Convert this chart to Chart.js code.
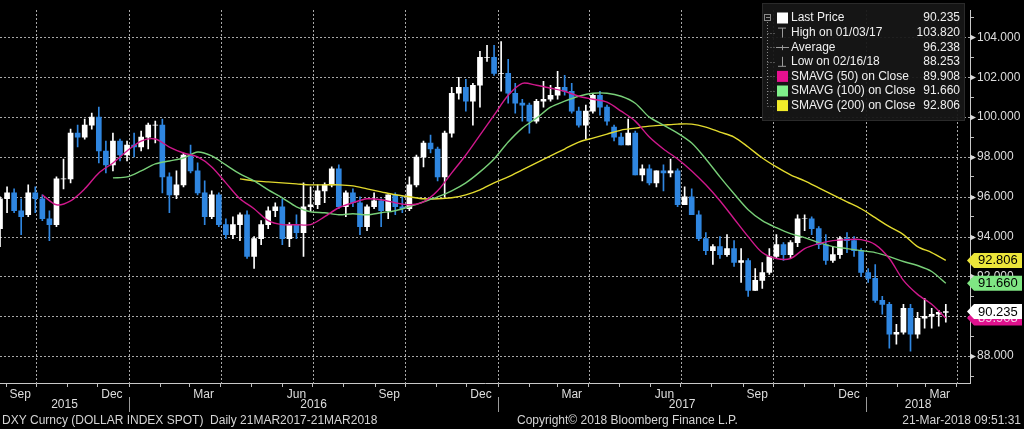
<!DOCTYPE html>
<html>
<head>
<meta charset="utf-8">
<script src="https://cdn.jsdelivr.net/npm/chart.js@4.4.0/dist/chart.umd.min.js"></script>
<style>
html, body { margin: 0; padding: 0; background: #000; }
#wrap { width: 1024px; height: 429px; }
</style>
</head>
<body>
<div id="wrap"><canvas id="myChart" width="1024" height="429"></canvas></div>
<script>
// DXY weekly candles, first week = Mon 24 Aug 2015, last = week of 19 Mar 2018
var opens = [94.4, 95.9, 96.2, 95.3, 95.1, 96.2, 95.9, 94.9, 94.6, 96.9,
    96.9, 99.2, 99.0, 99.6, 100.0, 98.3, 97.6, 98.8, 98.1, 98.6,
    98.5, 99.0, 99.6, 99.6, 97.0, 96.1, 96.6, 98.1, 97.3, 96.2,
    95.0, 96.1, 94.6, 94.1, 94.6, 95.1, 93.0, 93.9, 94.6, 95.3,
    95.5, 93.9, 94.6, 94.2, 95.5, 95.6, 96.3, 96.6, 97.4, 95.5,
    96.2, 95.7, 94.5, 95.5, 95.8, 95.3, 96.1, 95.5, 95.4, 96.6,
    98.0, 98.7, 98.4, 97.0, 99.2, 101.2, 101.5, 100.8, 101.6, 103.0,
    103.0, 102.2, 102.2, 101.2, 100.7, 100.6, 99.8, 100.8, 100.9, 101.1,
    101.5, 101.3, 100.3, 99.6, 100.3, 101.1, 100.5, 99.5, 99.0, 98.6,
    99.2, 97.1, 97.4, 96.7, 97.3, 97.2, 97.3, 95.6, 96.0, 95.1,
    93.9, 93.3, 93.5, 93.1, 93.4, 92.7, 92.8, 91.3, 91.8, 92.2,
    93.0, 93.6, 93.1, 93.7, 94.9, 94.9, 94.4, 93.6, 92.8, 93.1,
    93.9, 93.8, 93.3, 92.2, 91.9, 90.8, 90.6, 89.1, 89.2, 90.4,
    89.1, 89.9, 90.0, 90.1, 90.2]
var highs = [96.0, 96.5, 96.4, 95.9, 96.6, 96.5, 96.1, 95.3, 97.0, 97.9,
    99.4, 99.6, 99.9, 100.2, 100.5, 98.8, 99.2, 98.9, 98.8, 99.2,
    99.3, 99.7, 99.8, 99.9, 97.2, 97.3, 98.2, 98.6, 97.7, 96.8,
    96.3, 96.2, 94.9, 95.0, 95.2, 95.3, 94.0, 94.8, 95.5, 95.7,
    95.9, 94.7, 95.1, 96.7, 96.5, 96.6, 96.7, 97.5, 97.6, 96.3,
    96.4, 96.0, 95.6, 96.2, 95.9, 96.1, 96.2, 96.0, 97.0, 98.1,
    98.8, 99.1, 98.5, 99.3, 101.5, 102.0, 101.9, 101.7, 103.3, 103.6,
    103.6, 103.8, 102.9, 101.7, 100.9, 100.7, 100.9, 101.8, 101.6, 102.3,
    102.1, 101.7, 100.5, 100.6, 101.2, 101.3, 100.6, 99.6, 99.2, 99.9,
    99.3, 97.6, 97.6, 97.3, 97.6, 97.9, 97.4, 96.5, 96.4, 95.3,
    94.2, 93.6, 94.0, 94.1, 93.8, 93.4, 92.9, 92.4, 92.7, 93.4,
    94.1, 93.7, 93.8, 95.1, 95.1, 95.0, 94.5, 94.1, 93.5, 94.0,
    94.2, 94.0, 93.4, 92.4, 92.6, 91.0, 90.7, 89.6, 90.6, 90.6,
    90.2, 90.9, 90.4, 90.3, 90.6]
var lows = [93.5, 95.2, 95.2, 94.1, 95.0, 95.2, 94.8, 93.8, 94.5, 96.4,
    96.7, 98.5, 98.9, 99.4, 97.7, 97.2, 97.3, 97.8, 97.8, 98.0,
    98.3, 98.4, 98.7, 96.2, 95.2, 95.9, 96.5, 97.2, 96.1, 94.6,
    94.9, 94.5, 93.9, 93.9, 93.8, 92.9, 92.4, 93.6, 94.4, 95.0,
    93.6, 93.5, 93.9, 93.0, 95.3, 95.4, 95.7, 96.5, 95.4, 95.0,
    95.5, 94.1, 94.3, 95.4, 94.5, 94.9, 95.1, 95.2, 95.3, 96.5,
    97.5, 98.2, 96.8, 96.0, 99.0, 100.9, 100.3, 99.6, 100.5, 102.8,
    102.1, 101.3, 100.7, 100.2, 99.8, 99.2, 99.7, 100.5, 100.8, 100.9,
    101.1, 100.2, 99.5, 98.9, 100.2, 100.1, 99.6, 98.8, 98.6, 98.6,
    97.1, 96.8, 96.6, 96.5, 96.3, 97.0, 95.5, 95.6, 95.1, 93.8,
    93.1, 92.6, 92.9, 93.0, 92.5, 91.7, 91.0, 91.3, 91.4, 92.1,
    92.9, 92.8, 92.9, 93.5, 94.3, 94.1, 93.4, 92.6, 92.7, 92.9,
    93.2, 93.0, 92.0, 91.7, 90.7, 90.1, 88.4, 88.6, 89.1, 88.25,
    88.9, 89.4, 89.4, 89.5, 89.7]
var closes = [95.9, 96.2, 95.3, 95.0, 96.2, 95.9, 94.9, 94.6, 96.9, 96.9,
    99.2, 99.0, 99.6, 100.0, 98.3, 97.6, 98.8, 98.1, 98.6, 98.5,
    99.0, 99.6, 99.6, 97.0, 96.1, 96.6, 98.1, 97.3, 96.2, 95.0,
    96.1, 94.6, 94.1, 94.6, 95.1, 93.0, 93.9, 94.6, 95.3, 95.5,
    93.9, 94.6, 94.2, 95.5, 95.6, 96.3, 96.6, 97.4, 95.5, 96.2,
    95.7, 94.5, 95.5, 95.8, 95.3, 96.1, 95.5, 95.4, 96.6, 98.0,
    98.7, 98.4, 97.0, 99.2, 101.2, 101.5, 100.8, 101.6, 103.0, 103.0,
    102.2, 102.2, 101.2, 100.7, 100.6, 99.8, 100.8, 100.9, 101.1, 101.5,
    101.3, 100.3, 99.6, 100.3, 101.1, 100.5, 99.8, 99.0, 98.6, 99.2,
    97.1, 97.4, 96.7, 97.3, 97.2, 97.3, 95.6, 96.0, 95.1, 93.9,
    93.3, 93.5, 93.1, 93.4, 92.7, 92.8, 91.3, 91.8, 92.2, 93.0,
    93.6, 93.1, 93.7, 94.9, 94.9, 94.4, 93.6, 92.8, 93.1, 93.9,
    93.8, 93.3, 92.2, 91.9, 90.8, 90.6, 89.1, 89.2, 90.4, 89.1,
    89.9, 90.0, 90.1, 90.2, 90.235]

// moving averages read every second week (same start week)
var sma50 = [null, null, null, 96.1, 95.6, 95.8, 96.4, 97.2, 97.7, 98.3,
    98.8, 98.9, 98.5, 98.2, 98.0, 97.5, 96.7, 95.9, 95.4, 94.8,
    94.6, 94.6, 94.6, 95.0, 95.45, 95.7, 95.9, 95.85, 95.7, 95.6,
    95.75, 96.3, 97.2, 98.1, 99.1, 100.1, 101.1, 101.7, 101.6, 101.45,
    101.3, 101.05, 100.9, 100.75, 100.3, 99.8, 99.0, 98.4, 97.9, 97.3,
    96.6, 95.8, 94.9, 94.0, 93.2, 92.9, 92.9, 93.4, 93.65, 93.8,
    93.85, 93.85, 93.6, 92.9, 91.8, 91.1, 90.6, 89.908]
var sma100 = [null, null, null, null, null, null, null, null, 96.95, 97.0,
    97.3, 97.65, 97.8, 97.95, 98.25, 98.05, 97.6, 97.15, 96.8, 96.35,
    95.95, 95.5, 95.25, 95.2, 95.1, 95.15, 95.1, 95.2, 95.3, 95.5,
    95.75, 96.0, 96.3, 96.7, 97.25, 97.9, 98.75, 99.45, 99.95, 100.5,
    100.8, 101.05, 101.2, 101.2, 101.05, 100.7, 100.0, 99.6, 99.2, 98.7,
    97.9, 97.0, 96.15, 95.35, 94.8, 94.45, 94.15, 93.95, 93.7, 93.5,
    93.4, 93.3, 93.2, 93.0, 92.75, 92.55, 92.25, 91.66]
var sma200 = [null, null, null, null, null, null, null, null, null, null,
    null, null, null, null, null, null, null, 96.9, 96.8, 96.75,
    96.7, 96.65, 96.6, 96.6, 96.6, 96.55, 96.4, 96.25, 96.1, 96.0,
    95.9, 95.9, 95.95, 96.1, 96.35, 96.7, 97.0, 97.35, 97.7, 98.05,
    98.4, 98.75, 98.95, 99.15, 99.35, 99.45, 99.55, 99.6, 99.65, 99.65,
    99.5, 99.25, 99.0, 98.5, 97.95, 97.5, 97.1, 96.8, 96.45, 96.1,
    95.75, 95.4, 94.95, 94.5, 94.1, 93.5, 93.2, 92.806]

var monthNames = ['Jan', 'Feb', 'Mar', 'Apr', 'May', 'Jun', 'Jul', 'Aug', 'Sep', 'Oct', 'Nov', 'Dec']
var years = [2015, 2016, 2017, 2018]
var yTicks = [88, 90, 92, 94, 96, 98, 100, 102, 104]
var legendRows = [
    ['Last Price', '90.235'],
    ['High on 01/03/17', '103.820'],
    ['Average', '96.238'],
    ['Low on 02/16/18', '88.253'],
    ['SMAVG (50) on Close', '89.908'],
    ['SMAVG (100) on Close', '91.660'],
    ['SMAVG (200) on Close', '92.806']
]
var footerLeft = 'DXY Curncy (DOLLAR INDEX SPOT)  Daily 21MAR2017-21MAR2018'
var footerMid = 'Copyright\u00a9 2018 Bloomberg Finance L.P.'
var footerRight = '21-Mar-2018 09:51:31'

//---------------------------------------------------------
// dates as day numbers from 1 Oct 2015
var origin = Date.UTC(2015, 9, 1)
function dayNum(y, m, d) {
    return (Date.UTC(y, m - 1, d) - origin) / 86400000
}
var firstMonday = dayNum(2015, 8, 24)
var weekDay = opens.map((v, i) => firstMonday + 7 * i + 2)
var smaDay = sma50.map((v, i) => weekDay[2 * i])

var xMin = dayNum(2015, 8, 26)
var xMax = dayNum(2018, 4, 14)

var monthTicks = [], quarterTicks = [], labelTicks = {}
years.forEach(y => {
    for (let m = 1; m <= 12; m++) {
        let d = dayNum(y, m, 1)
        if (d >= xMin && d <= xMax) {
            monthTicks.push(d)
            if (m % 3 == 1) quarterTicks.push(d)
        }
        let mid = dayNum(y, m, 15)
        if (m % 3 == 0 && mid >= xMin && mid <= xMax) labelTicks[mid] = monthNames[m - 1]
    }
})

var upColor = '#ffffff'
var downColor = '#2f86e0'
var magenta = '#d0188c'
var green = '#78cf78'
var yellow = '#e2da2e'
var gridColor = '#a8a8a8'
var textColor = '#dedede'
var font = 'Liberation Sans'

function candleColor(i) {
    return closes[i] >= opens[i] ? upColor : downColor
}

const wicks = weekDay.map((d, i) => ({ x: d, y: [lows[i], highs[i]] }))
const bodies = weekDay.map((d, i) => ({ x: d, y: [opens[i], closes[i]] }))
const line50 = smaDay.map((d, i) => ({ x: d, y: sma50[i] }))
const line100 = smaDay.map((d, i) => ({ x: d, y: sma100[i] }))
const line200 = smaDay.map((d, i) => ({ x: d, y: sma200[i] }))

// ------------------------------------------------------------
// dotted grid drawn by hand, dots every 4px
function dottedLine(c, x1, y1, x2, y2) {
    if (x1 == x2) {
        for (let y = y1; y < y2; y += 4) c.fillRect(x1, y, 1, 2)
    } else {
        for (let x = x1; x < x2; x += 4) c.fillRect(x, y1, 2, 1)
    }
}

// extra drawing: arrows on y axis, price tags, legend box, years, footer
const overlay = {
    id: 'overlay',
    beforeDraw(chart) {
        const c = chart.ctx
        c.save()
        c.fillStyle = '#000'
        c.fillRect(0, 0, chart.width, chart.height)
        c.restore()
    },
    beforeDatasetsDraw(chart) {
        const c = chart.ctx
        const ys = chart.scales.y
        const xs = chart.scales.x
        const area = chart.chartArea
        c.save()
        c.fillStyle = gridColor
        quarterTicks.forEach(d => {
            let px = Math.round(xs.getPixelForValue(d))
            dottedLine(c, px, Math.round(area.top), px, Math.round(area.bottom))
        })
        yTicks.forEach(v => {
            let py = Math.round(ys.getPixelForValue(v))
            dottedLine(c, Math.round(area.left), py, Math.round(area.right), py)
        })
        c.restore()
    },
    afterDraw(chart) {
        const c = chart.ctx
        const ys = chart.scales.y
        const xs = chart.scales.x
        const area = chart.chartArea
        c.save()

        // little arrows at major y ticks
        c.fillStyle = '#d8d8d8'
        yTicks.forEach(v => {
            let py = Math.round(ys.getPixelForValue(v)) + 0.5
            c.beginPath()
            c.moveTo(area.right, py - 3)
            c.lineTo(area.right + 6, py)
            c.lineTo(area.right, py + 3)
            c.closePath()
            c.fill()
        })

        // price tags on the right
        function tag(val, fill, txtColor) {
            let py = ys.getPixelForValue(val)
            c.beginPath()
            c.moveTo(area.right - 3, py)
            c.lineTo(area.right + 4, py - 7.5)
            c.lineTo(1022, py - 7.5)
            c.lineTo(1022, py + 7.5)
            c.lineTo(area.right + 4, py + 7.5)
            c.closePath()
            c.fillStyle = fill
            c.fill()
            c.fillStyle = txtColor
            c.font = '13px ' + font
            c.textBaseline = 'middle'
            c.textAlign = 'left'
            c.fillText(val.toFixed(3), area.right + 8, py + 0.5)
        }
        tag(sma50[sma50.length - 1], '#e0128e', '#f4d0e8')
        tag(sma200[sma200.length - 1], '#ece63a', '#000')
        tag(sma100[sma100.length - 1], '#7fe683', '#000')
        tag(closes[closes.length - 1], '#ffffff', '#000')

        // legend box
        const lx = 762, ly = 3, lw = 203, lh = 118
        c.fillStyle = 'rgba(22,22,22,0.94)'
        c.fillRect(lx, ly, lw, lh)
        c.strokeStyle = '#2a2a2a'
        c.lineWidth = 1
        c.strokeRect(lx + 0.5, ly + 0.5, lw - 1, lh - 1)
        const rowY = legendRows.map((r, i) => 18 + i * 14.6)
        // tree lines
        c.strokeStyle = '#8a8a8a'
        c.setLineDash([1, 2])
        c.beginPath()
        c.moveTo(767.5, 22)
        c.lineTo(767.5, rowY[6])
        rowY.slice(1).forEach(y => {
            c.moveTo(767.5, Math.round(y) + 0.5)
            c.lineTo(775, Math.round(y) + 0.5)
        })
        c.stroke()
        c.setLineDash([])
        c.strokeRect(764.5, 14.5, 6, 6)
        c.beginPath()
        c.moveTo(766, 17.5); c.lineTo(770, 17.5)
        c.stroke()
        // icons
        const ix = 777, isz = 11
        c.fillStyle = '#ffffff'
        c.fillRect(ix, rowY[0] - 5.5, isz, isz)
        c.strokeStyle = '#9a9a9a'
        c.beginPath()
        c.moveTo(ix + 1, rowY[1] - 4.5); c.lineTo(ix + 9, rowY[1] - 4.5)
        c.moveTo(ix + 5.5, rowY[1] - 4.5); c.lineTo(ix + 5.5, rowY[1] + 5)
        c.moveTo(ix - 1, Math.round(rowY[2]) + 0.5); c.lineTo(ix + 12, Math.round(rowY[2]) + 0.5)
        c.moveTo(ix + 5.5, rowY[2] - 2); c.lineTo(ix + 5.5, rowY[2] + 3)
        c.moveTo(ix + 5.5, rowY[3] - 5); c.lineTo(ix + 5.5, rowY[3] + 4.5)
        c.moveTo(ix + 1, rowY[3] + 4.5); c.lineTo(ix + 9, rowY[3] + 4.5)
        c.stroke()
        ;['#e6108f', '#7ff08a', '#f2ec2a'].forEach((col, k) => {
            c.fillStyle = col
            c.fillRect(ix, rowY[4 + k] - 5.5, isz, isz)
        })
        c.font = '12px ' + font
        c.textBaseline = 'middle'
        legendRows.forEach((r, i) => {
            c.fillStyle = '#f0f0f0'
            c.textAlign = 'left'
            c.fillText(r[0], 791, rowY[i])
            c.textAlign = 'right'
            c.fillText(r[1], 960, rowY[i])
        })

        // years under the month labels
        const yearRow = 405
        c.font = '12px ' + font
        c.fillStyle = textColor
        c.textAlign = 'center'
        c.strokeStyle = '#9a9a9a'
        years.forEach(y => {
            let a = Math.max(dayNum(y, 1, 1), xMin)
            let b = Math.min(dayNum(y + 1, 1, 1), xMax)
            let pa = xs.getPixelForValue(a), pb = xs.getPixelForValue(b)
            c.fillText(String(y), (pa + pb) / 2, yearRow)
            if (dayNum(y, 1, 1) > xMin) {
                let px = Math.round(pa) + 0.5
                c.beginPath()
                c.moveTo(px, 397); c.lineTo(px, 412)
                c.stroke()
            }
        })

        // footer
        c.font = '12px ' + font
        c.fillStyle = '#d4d4d4'
        c.textAlign = 'left'
        c.fillText(footerLeft, 2, 421)
        c.fillText(footerMid, 517, 421)
        c.textAlign = 'right'
        c.fillText(footerRight, 1021, 421)
        c.restore()
    }
}

const config = {
    type: 'bar',
    data: {
        datasets: [
            { type: 'line', data: line50, borderColor: magenta, borderWidth: 1.4, pointRadius: 0, tension: 0.3, order: 0 },
            { type: 'line', data: line100, borderColor: green, borderWidth: 1.4, pointRadius: 0, tension: 0.3, order: 0 },
            { type: 'line', data: line200, borderColor: yellow, borderWidth: 1.4, pointRadius: 0, tension: 0.3, order: 0 },
            { data: bodies, barThickness: 5, grouped: false, order: 1,
              backgroundColor: ctx => candleColor(ctx.dataIndex), borderWidth: 0 },
            { data: wicks, barThickness: 1, grouped: false, order: 2,
              backgroundColor: ctx => candleColor(ctx.dataIndex), borderWidth: 0 }
        ]
    },
    options: {
        responsive: false,
        devicePixelRatio: 1,
        animation: false,
        events: [],
        layout: { padding: 0 },
        plugins: { legend: { display: false }, tooltip: { enabled: false } },
        scales: {
            x: {
                type: 'linear',
                min: xMin,
                max: xMax,
                offset: false,
                afterBuildTicks: scale => {
                    let all = monthTicks.concat(Object.keys(labelTicks).map(Number))
                    all.sort((a, b) => a - b)
                    scale.ticks = all.map(v => ({ value: v }))
                },
                afterFit: scale => { scale.height = 46 },
                ticks: {
                    autoSkip: false,
                    maxRotation: 0,
                    padding: 0,
                    color: textColor,
                    font: { family: font, size: 12 },
                    callback: v => labelTicks[v] || ''
                },
                grid: {
                    offset: false,
                    drawOnChartArea: false,
                    tickLength: 4,
                    tickColor: ctx => ctx.tick && monthTicks.includes(ctx.tick.value) ? '#bdbdbd' : 'rgba(0,0,0,0)'
                },
                border: { color: '#c8c8c8', width: 1 }
            },
            y: {
                type: 'linear',
                position: 'right',
                min: 86.65,
                max: 105.37,
                afterBuildTicks: scale => {
                    let t = []
                    for (let v = 87; v <= 105; v++) t.push({ value: v })
                    scale.ticks = t
                },
                afterFit: scale => { scale.width = 54 },
                ticks: {
                    padding: 3,
                    color: textColor,
                    font: { family: font, size: 12 },
                    callback: v => yTicks.includes(v) ? v.toFixed(3) : ''
                },
                grid: {
                    drawOnChartArea: false,
                    tickLength: 4,
                    tickColor: '#bdbdbd'
                },
                border: { color: '#c8c8c8', width: 1 }
            }
        }
    },
    plugins: [overlay]
}

const myChart = new Chart(document.getElementById('myChart'), config)
</script>
</body>
</html>
